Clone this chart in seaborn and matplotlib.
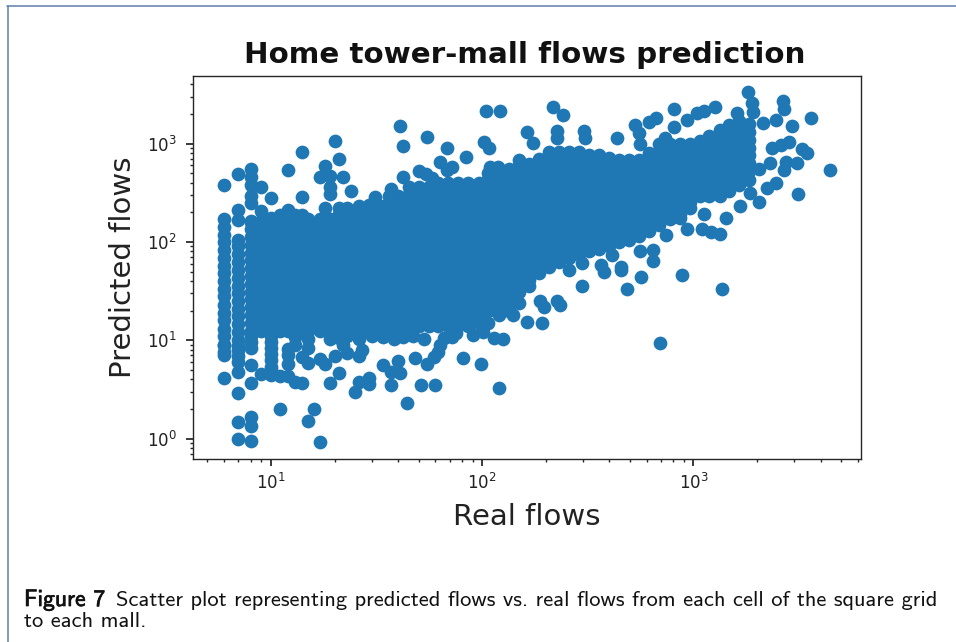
import matplotlib
matplotlib.use("Agg")
import pandas as pd
import seaborn as sns
import matplotlib.pyplot as plt
import matplotlib.patheffects as pe

from matplotlib.lines import Line2D

# isolated points
outlier_real = [
    6, 7, 8, 8, 8, 9, 8, 8, 7, 7, 10, 9, 12, 14, 14, 12, 17, 18, 20, 21, 22, 19, 19, 19, 18, 24, 31, 37,
    41, 42, 42, 50, 55, 54, 58, 68, 63, 68, 72, 84, 104, 121, 102, 108, 109, 119, 150,
    216, 240, 163, 174, 226, 225, 304, 308, 434, 531, 551, 560, 614, 665, 813, 813, 736, 933, 1042, 1120,
    1260, 1815, 1900, 1905, 1610, 2140, 2450, 2660, 2690, 2940, 3610, 2830, 2600, 2360, 3250, 3460, 4420,
    3120, 3080, 2730, 2690, 2450, 2220, 2300, 2040, 2040, 1860, 1660, 1430, 1120, 1340, 1210, 1100, 935,
    740, 640, 640, 560, 454, 366, 296, 412,
    1370, 692, 880, 567, 482, 455, 376, 298, 258, 226, 234, 188, 195, 192, 163,
    6, 7, 7, 7, 8, 8, 8, 11, 16, 15, 17, 8, 8, 7, 7, 7, 9, 10, 10, 10, 11, 12, 12, 13, 14, 14, 13, 15, 15,
    17, 18, 19, 21, 20, 22, 23, 25, 26, 29, 29, 26, 27, 34, 37, 40, 37, 41, 44, 48, 51, 60, 55, 59, 62, 63,
    81, 99, 120, 75, 126, 114, 101, 53, 38, 34, 26, 19, 13, 8, 6, 6,
    10, 10, 10, 10, 10, 8, 8, 7, 7, 12, 12, 13, 15, 21, 23, 30, 42, 47, 66, 72, 90, 140,
]
outlier_pred = [
    379, 491, 547, 460, 379, 365, 293, 249, 211, 167, 280, 204, 539, 828, 284, 211, 454, 592, 1070, 697, 454, 467, 365, 307, 223, 330, 288, 343,
    1520, 945, 454, 526, 1175, 490, 444, 908, 654, 540, 582, 725, 2140, 2140, 1047, 895, 582, 574, 680,
    2340, 1970, 1300, 1020, 1340, 1130, 1340, 1130, 1130, 1545, 1275, 991, 1670, 1830, 2250, 1465, 1130, 1738, 2030, 2160,
    2370, 3330, 2570, 2110, 2030, 1610, 1738, 2710, 2230, 1520, 1810, 1047, 966, 895, 880, 796, 539,
    307, 640, 654, 540, 400, 351, 631, 552, 257, 312, 232, 174, 191, 120, 125, 135, 134,
    119, 83, 64, 81, 56, 58, 61, 74,
    33, 9.4, 46, 44, 33, 52, 50, 36, 52, 25, 23, 25, 22, 15, 15.4,
    4.1, 2.9, 1.46, 1.0, 1.64, 1.35, 0.94, 2.0, 2.0, 1.52, 0.92, 3.64, 5.6, 4.8, 6.0, 8.0, 4.5, 4.4, 6.3, 8.3, 4.3, 4.3, 5.8, 3.8, 3.64, 6.7, 8.9, 5.9, 8.3,
    6.5, 5.8, 3.64, 4.7, 6.9, 8.9, 7.4, 3.0, 3.8, 4.1, 3.6, 6.9, 8.0, 5.6, 3.5, 6.2, 4.8, 4.6, 2.3, 6.6, 3.5, 3.5, 5.8, 6.8, 7.6, 8.9,
    6.6, 5.8, 3.3, 11.8, 10.2, 10.6, 12, 10.2, 10.2, 10.8, 10.4, 10.4, 10.7, 8.3, 7.0, 9.0,
    11, 9.6, 7.3, 5.4, 5.0, 11, 9.6, 8.8, 6.9, 8.2, 7, 11, 10.4, 10.6, 11, 11, 10.8, 11, 10.6, 10.8, 11.2, 18,
]

# the dense part of the cloud, one list of predicted values per real value
blob_real = [
    6, 7, 8, 9, 10, 11, 12, 13, 14, 15, 17, 19, 21, 23, 26, 29, 32, 36, 40, 45, 50, 56, 62, 69, 77, 86, 96,
    107, 120, 134, 150, 167, 186, 207, 231, 258, 288, 321, 358, 400, 446, 497, 555, 619, 690, 770, 860, 960,
    1070, 1190, 1330, 1480, 1650, 1840,
]
blob_pred = [
    [7.6, 9, 11, 13, 16, 19, 23, 28, 33, 40, 48, 57, 69, 82, 99, 118, 142, 170],
    [10, 12, 14.5, 17.5, 21, 25, 30, 36, 43, 52, 62, 75, 90, 104],
    [12.5, 15, 18, 21.6, 26, 31, 37, 45, 54, 65, 78, 93, 112, 134, 161, 165],
    [12.5, 13.7, 16.4, 19.7, 23.7, 28.4, 34, 41, 49, 59, 71, 85, 102, 122, 147, 165],
    [12.5, 15, 18, 21.6, 26, 31, 37, 45, 54, 65, 78, 93, 112, 134, 161, 174],
    [12.5, 13.7, 16.4, 19.7, 23.7, 28.4, 34, 41, 49, 59, 71, 85, 102, 122, 147, 176, 190],
    [12.5, 15, 18, 21.6, 26, 31, 37, 45, 54, 65, 78, 93, 112, 134, 161, 190],
    [12.5, 13.7, 16.4, 19.7, 23.7, 28.4, 34, 41, 49, 59, 71, 85, 102, 122, 147, 176, 190],
    [12.5, 15, 18, 21.6, 26, 31, 37, 45, 54, 65, 78, 93, 112, 134, 161, 190],
    [12.5, 13.7, 16.4, 19.7, 23.7, 28.4, 34, 41, 49, 59, 71, 85, 102, 122, 147, 170],
    [12.5, 15, 18, 21.6, 26, 31, 37, 45, 54, 65, 78, 93, 112, 134, 161, 170],
    [12.5, 13.7, 16.4, 19.7, 23.7, 28.4, 34, 41, 49, 59, 71, 85, 102, 122, 147, 170],
    [12.5, 15, 18, 21.6, 26, 31, 37, 45, 54, 65, 78, 93, 112, 134, 161, 193, 220],
    [12.5, 13.7, 16.4, 19.7, 23.7, 28.4, 34, 41, 49, 59, 71, 85, 102, 122, 147, 176, 212, 220],
    [12.5, 15, 18, 21.6, 26, 31, 37, 45, 54, 65, 78, 93, 112, 134, 161, 193, 232],
    [12.5, 13.7, 16.4, 19.7, 23.7, 28.4, 34, 41, 49, 59, 71, 85, 102, 122, 147, 176, 212, 236],
    [12.5, 15, 18, 21.6, 26, 31, 37, 45, 54, 65, 78, 93, 112, 134, 161, 193, 232, 240],
    [12.5, 13.7, 16.4, 19.7, 23.7, 28.4, 34, 41, 49, 59, 71, 85, 102, 122, 147, 176, 212, 254, 290],
    [13, 15, 18, 21.6, 26, 31, 37, 45, 54, 65, 78, 93, 112, 134, 161, 193, 232, 278, 291],
    [14, 16.4, 19.7, 23.7, 28.4, 34, 41, 49, 59, 71, 85, 102, 122, 147, 176, 212, 254, 305, 360],
    [14, 18, 21.6, 26, 31, 37, 45, 54, 65, 78, 93, 112, 134, 161, 193, 232, 278, 334, 360],
    [14, 16.4, 19.7, 23.7, 28.4, 34, 41, 49, 59, 71, 85, 102, 122, 147, 176, 212, 254, 305, 360],
    [14, 18, 21.6, 26, 31, 37, 45, 54, 65, 78, 93, 112, 134, 161, 193, 232, 278, 334, 395],
    [14, 16.4, 19.7, 23.7, 28.4, 34, 41, 49, 59, 71, 85, 102, 122, 147, 176, 212, 254, 305, 366, 395],
    [14, 18, 21.6, 26, 31, 37, 45, 54, 65, 78, 93, 112, 134, 161, 193, 232, 278, 334, 395],
    [14, 16.4, 19.7, 23.7, 28.4, 34, 41, 49, 59, 71, 85, 102, 122, 147, 176, 212, 254, 305, 366, 395],
    [15, 18, 21.6, 26, 31, 37, 45, 54, 65, 78, 93, 112, 134, 161, 193, 232, 278, 334, 395],
    [15, 19.7, 23.7, 28.4, 34, 41, 49, 59, 71, 85, 102, 122, 147, 176, 212, 254, 305, 366, 439, 500],
    [18, 21.6, 26, 31, 37, 45, 54, 65, 78, 93, 112, 134, 161, 193, 232, 278, 334, 401, 481],
    [20, 23.7, 28.4, 34, 41, 49, 59, 71, 85, 102, 122, 147, 176, 212, 254, 305, 366, 439, 527, 550],
    [24, 31, 37, 45, 54, 65, 78, 93, 112, 134, 161, 193, 232, 278, 334, 401, 481, 577, 600],
    [36, 41, 49, 59, 71, 85, 102, 122, 147, 176, 212, 254, 305, 366, 439, 527, 620],
    [48, 54, 65, 78, 93, 112, 134, 161, 193, 232, 278, 334, 401, 481, 577, 700],
    [55, 59, 71, 85, 102, 122, 147, 176, 212, 254, 305, 366, 439, 527, 632, 759, 830],
    [62, 78, 93, 112, 134, 161, 193, 232, 278, 334, 401, 481, 577, 693, 831],
    [68, 85, 102, 122, 147, 176, 212, 254, 305, 366, 439, 527, 632, 759, 830],
    [75, 93, 112, 134, 161, 193, 232, 278, 334, 401, 481, 577, 693, 831],
    [80, 102, 122, 147, 176, 212, 254, 305, 366, 439, 527, 632, 759],
    [85, 93, 112, 134, 161, 193, 232, 278, 334, 401, 481, 577, 693, 760],
    [91, 102, 122, 147, 176, 212, 254, 305, 366, 439, 527, 632, 720],
    [100, 112, 134, 161, 193, 232, 278, 334, 401, 481, 577, 680],
    [105, 122, 147, 176, 212, 254, 305, 366, 439, 527, 632, 680],
    [115, 134, 161, 193, 232, 278, 334, 401, 481, 577, 680],
    [130, 147, 176, 212, 254, 305, 366, 439, 527, 632, 759, 800],
    [150, 161, 193, 232, 278, 334, 401, 481, 577, 693, 831, 1000],
    [170, 212, 254, 305, 366, 439, 527, 632, 759, 911, 1000],
    [174, 193, 232, 278, 334, 401, 481, 577, 693, 831, 998],
    [220, 254, 305, 366, 439, 527, 632, 759, 911, 1000],
    [290, 334, 401, 481, 577, 693, 831, 998, 1057],
    [290, 305, 366, 439, 527, 632, 759, 911, 1093, 1203],
    [291, 334, 401, 481, 577, 693, 831, 998, 1197, 1368],
    [331, 366, 439, 527, 632, 759, 911, 1093, 1311, 1556],
    [377, 401, 481, 577, 693, 831, 998, 1197, 1436, 1700],
    [429, 527, 632, 759, 911, 1093, 1311, 1574],
]

title = "Home tower-mall flows prediction"
x_label = "Real flows"
y_label = "Predicted flows"
caption_head = "Figure 7"
caption_line1 = "Scatter plot representing predicted flows vs. real flows from each cell of the square grid"
caption_line2 = "to each mall."

blob = pd.DataFrame({"real": blob_real, "pred": blob_pred}).explode("pred")
outliers = pd.DataFrame({"real": outlier_real, "pred": outlier_pred})
flows = pd.concat([blob, outliers], ignore_index = True).astype(float)

sns.set_theme(style = "ticks", rc = {
    "xtick.major.size": 5, "ytick.major.size": 5,
    "xtick.minor.size": 2.5, "ytick.minor.size": 2.5,
    "axes.linewidth": 1.0,
})

fig = plt.figure(figsize = (9.56, 6.42), dpi = 100)
ax = fig.add_axes([193 / 956, 1 - 459 / 642, 668 / 956, 383 / 642])
ax.set_xscale("log")
ax.set_yscale("log")

sns.scatterplot(data = flows, x = "real", y = "pred", ax = ax,
    color = "#1f77b4", s = 98, linewidth = 0, legend = False)

ax.set_xlim(4.27, 6210)
ax.set_ylim(0.62, 4870)
ax.tick_params(axis = "both", which = "major", labelsize = 12, colors = "#222222")
ax.tick_params(axis = "x", which = "major", pad = 5)
ax.tick_params(axis = "y", which = "major", pad = 6.5)
ax.set_title(title, fontsize = 21.2, fontweight = "bold", color = "#111111", pad = 9.5, x = 0.497)
ax.set_xlabel(x_label, fontsize = 21, color = "#222222", labelpad = 7)
ax.set_ylabel(y_label, fontsize = 21, color = "#222222", labelpad = 7)

# page frame of the journal figure
fig.add_artist(Line2D([7 / 956, 1], [1 - 5.5 / 642, 1 - 5.5 / 642], color = "#5f7fa8", lw = 1.1))
fig.add_artist(Line2D([7.5 / 956, 7.5 / 956], [0, 1 - 5.5 / 642], color = "#5f7fa8", lw = 1.1))

fig.text(24 / 956, 1 - 600 / 642, caption_head, family = "cmss10", fontsize = 17, color = "#111111",
    va = "center", path_effects = [pe.withStroke(linewidth = 0.5, foreground = "#111111")])
fig.text(116 / 956, 1 - 600 / 642, caption_line1, family = "cmss10", fontsize = 16.2, color = "#111111", va = "center")
fig.text(24 / 956, 1 - 621.5 / 642, caption_line2, family = "cmss10", fontsize = 16.2, color = "#111111", va = "center")

fig.savefig("out.png", dpi = 100)
